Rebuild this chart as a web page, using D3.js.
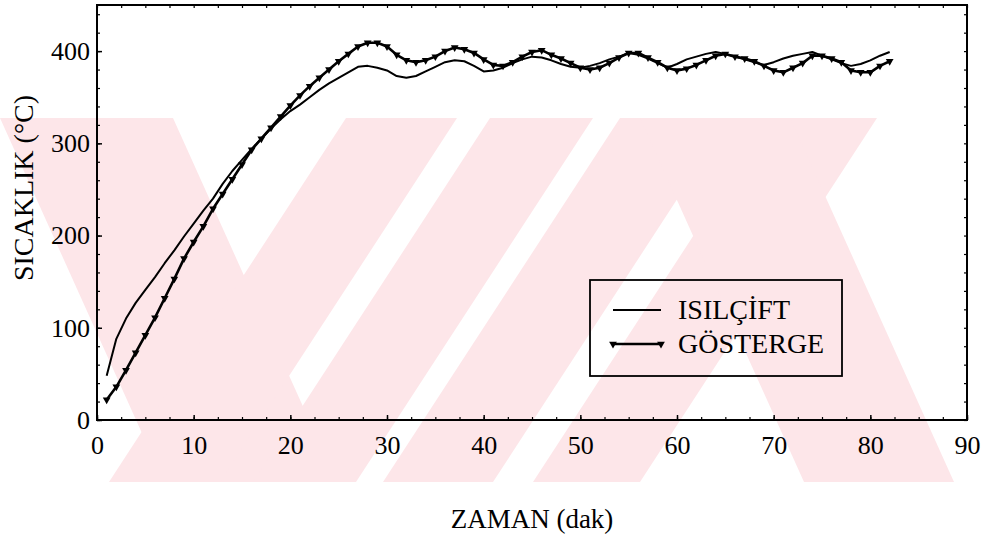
<!DOCTYPE html>
<html>
<head>
<meta charset="utf-8">
<script src="https://cdn.jsdelivr.net/npm/d3@7"></script>
<style>
  body { margin: 0; background: #fff; }
  text { font-family: "Liberation Serif", "Times New Roman", Times, serif; }
</style>
</head>
<body>
<div id="chart"></div>
<script>
// time axis (dak), one reading per minute
var minutes = d3.range(1, 83);

// ISILÇİFT (thermocouple) readings, °C
var isilcift = [48, 88, 110, 127, 141, 155, 170, 184, 199, 213,
    227, 240, 256, 270, 282, 294, 305, 316, 326, 335,
    342, 350, 358, 365, 371, 377, 383, 384, 382, 379,
    373, 371, 373, 378, 383, 388, 390, 389, 384, 378,
    379, 382, 387, 391, 394, 393, 390, 386, 383, 382,
    384, 387, 391, 394, 398, 396, 392, 387, 382, 386,
    391, 394, 397, 399, 397, 394, 391, 388, 385, 388,
    392, 395, 397, 399, 395, 391, 387, 384, 386, 390,
    395, 399];

// GÖSTERGE (indicator) readings, °C
var gosterge = [22, 36, 54, 73, 92, 111, 132, 153, 175, 193,
    210, 229, 245, 261, 277, 293, 305, 317, 329, 341,
    352, 362, 371, 380, 389, 397, 405, 409, 409, 405,
    396, 390, 388, 390, 394, 400, 404, 402, 398, 391,
    385, 384, 388, 394, 399, 401, 396, 392, 387, 382,
    380, 382, 387, 393, 398, 398, 393, 388, 382, 379,
    381, 385, 390, 395, 397, 394, 392, 389, 384, 379,
    377, 382, 387, 395, 395, 392, 388, 379, 377, 377,
    384, 389];

var xTicks = [0, 10, 20, 30, 40, 50, 60, 70, 80, 90];
var yTicks = [0, 100, 200, 300, 400];
var seriesNames = ["ISILÇİFT", "GÖSTERGE"];

var W = 989, H = 539;
var margin = { top: 5, right: 22, bottom: 119, left: 97 };
var width = W - margin.left - margin.right;
var height = H - margin.top - margin.bottom;
var serif = "Liberation Serif, Times New Roman, Times, serif";

var svg = d3.select("#chart").append("svg")
    .attr("width", W)
    .attr("height", H)
    .attr("font-family", serif);

// pale red thesis-centre watermark behind the chart (top edge y=118, bottom y=482)
var pink = "#fde6e9";
var wTop = 118, wBot = 482;
// [left, right] at the top edge and horizontal drift down to the bottom edge
var bands = [
    [0, 173, 164],
    [346, 457, -237],
    [490, 593, -237],
    [620, 730, -237],
    [770, 877, -237],
    [640, 790, 164]
];
svg.append("g").selectAll("polygon").data(bands).enter().append("polygon")
    .attr("points", function (d) {
        return [[d[0], wTop], [d[1], wTop], [d[1] + d[2], wBot], [d[0] + d[2], wBot]]
            .map(function (p) { return p.join(","); }).join(" ");
    })
    .style("fill", pink);

var g = svg.append("g")
    .attr("transform", "translate(" + margin.left + "," + margin.top + ")");

var x = d3.scaleLinear().domain([0, 90]).range([0, width]);
var y = d3.scaleLinear().domain([0, 450]).range([height, 0]);

// minor ticks on every side, pointing inwards
function minor(axis, pos) {
    var a = g.append("g").attr("transform", pos).call(axis);
    a.select(".domain").remove();
    a.selectAll("text").remove();
    a.selectAll("line").attr("stroke", "#000").attr("stroke-width", 1.2);
}
var xMinor = d3.range(0, 90.1, 2.5);
var yMinor = d3.range(0, 451, 20);
minor(d3.axisBottom(x).tickValues(xMinor).tickSize(-3), "translate(0," + height + ")");
minor(d3.axisTop(x).tickValues(xMinor).tickSize(-3), "translate(0,0)");
minor(d3.axisLeft(y).tickValues(yMinor).tickSize(-3), "translate(0,0)");
minor(d3.axisRight(y).tickValues(yMinor).tickSize(-3), "translate(" + width + ",0)");

// main axes with labels
var xAxis = g.append("g")
    .attr("transform", "translate(0," + height + ")")
    .call(d3.axisBottom(x).tickValues(xTicks).tickSize(-5).tickPadding(16).tickFormat(d3.format("d")));
var yAxis = g.append("g")
    .call(d3.axisLeft(y).tickValues(yTicks).tickSize(-5).tickPadding(7).tickFormat(d3.format("d")));
[xAxis, yAxis].forEach(function (a) {
    a.attr("font-family", serif).attr("font-size", 26);
    a.select(".domain").remove();
    a.selectAll("line").attr("stroke", "#000").attr("stroke-width", 1.5);
    a.selectAll("text").attr("fill", "#000");
});

// plot frame
g.append("rect")
    .attr("width", width).attr("height", height)
    .style("fill", "none").style("stroke", "#000").style("stroke-width", 2);

// series lines
var line = d3.line()
    .x(function (d, i) { return x(minutes[i]); })
    .y(function (d) { return y(d); });

g.append("path").datum(isilcift)
    .attr("d", line)
    .style("fill", "none").style("stroke", "#000").style("stroke-width", 2)
    .style("stroke-linejoin", "round");

g.append("path").datum(gosterge)
    .attr("d", line)
    .style("fill", "none").style("stroke", "#000").style("stroke-width", 2.6)
    .style("stroke-linejoin", "round");

var tri = d3.symbol().type(d3.symbolTriangle).size(26);
g.selectAll(".mark").data(gosterge).enter().append("path")
    .attr("class", "mark")
    .attr("d", tri)
    .attr("transform", function (d, i) { return "translate(" + x(minutes[i]) + "," + y(d) + ") rotate(180)"; })
    .style("fill", "#000");

// axis titles
svg.append("text")
    .attr("x", margin.left + width / 2).attr("y", 528)
    .attr("text-anchor", "middle")
    .attr("font-size", 27)
    .text("ZAMAN (dak)");

svg.append("text")
    .attr("transform", "translate(33,188) rotate(-90)")
    .attr("text-anchor", "middle")
    .attr("font-size", 28)
    .text("SICAKLIK (°C)");

// legend
var legend = svg.append("g");
legend.append("rect")
    .attr("x", 590).attr("y", 280).attr("width", 252).attr("height", 96)
    .style("fill", "none").style("stroke", "#000").style("stroke-width", 1.8);

var rows = legend.selectAll(".row").data(seriesNames).enter().append("g")
    .attr("transform", function (d, i) { return "translate(0," + (310 + i * 34) + ")"; });
rows.append("line")
    .attr("x1", 613).attr("x2", 661)
    .style("stroke", "#000").style("stroke-width", function (d, i) { return i ? 2.4 : 1.8; });
rows.append("text")
    .attr("x", 678).attr("dy", "0.33em")
    .attr("font-size", 28)
    .text(function (d) { return d; });
rows.filter(function (d, i) { return i === 1; }).selectAll(".lm")
    .data([613, 661]).enter().append("path")
    .attr("d", tri)
    .attr("transform", function (d) { return "translate(" + d + ",0) rotate(180)"; })
    .style("fill", "#000");
</script>
</body>
</html>
